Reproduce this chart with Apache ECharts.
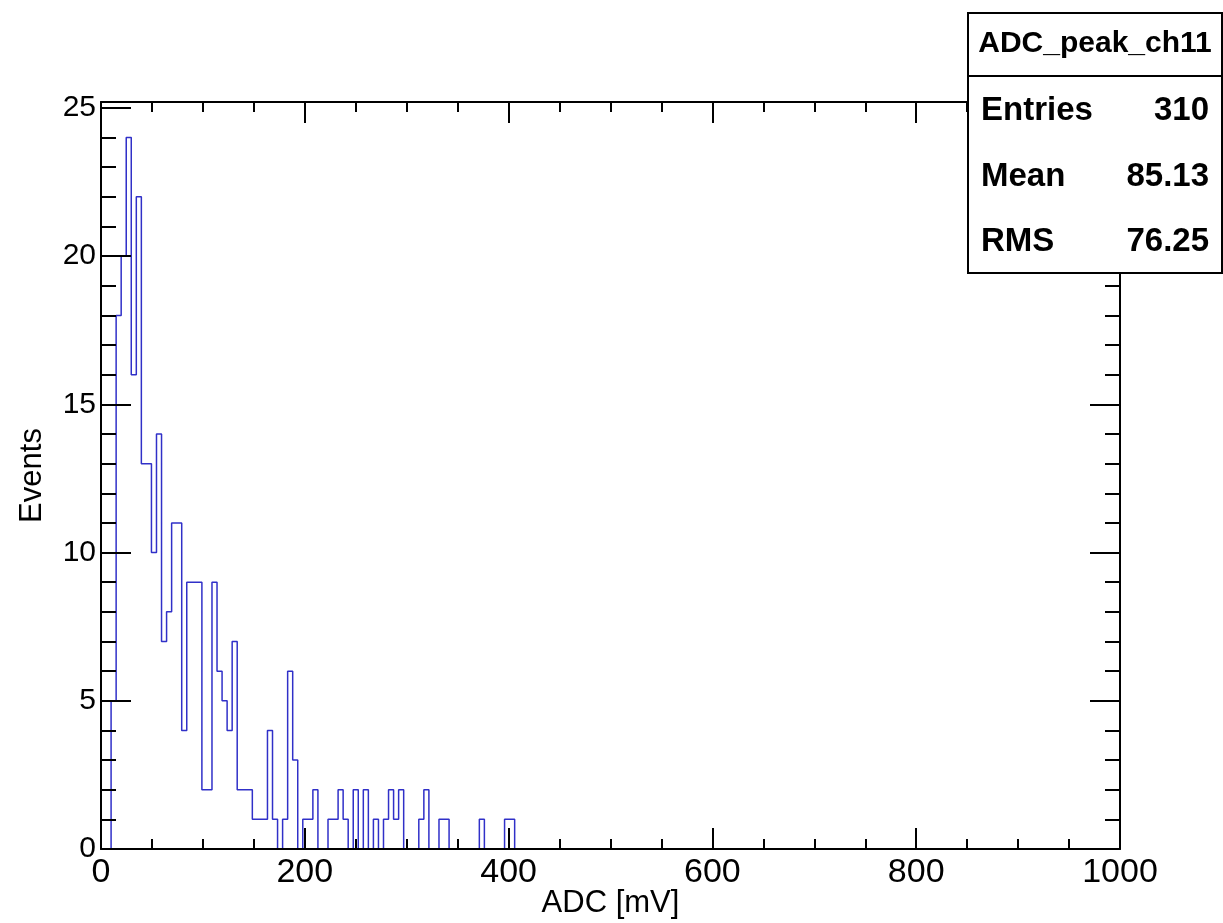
<!DOCTYPE html>
<html>
<head>
<meta charset="utf-8">
<title>ADC_peak_ch11</title>
<script src="https://cdn.jsdelivr.net/npm/echarts@6/dist/echarts.min.js"></script>
<style>
  html, body { margin: 0; padding: 0; background: #ffffff; }
  #chart { width: 1223px; height: 923px; }
</style>
</head>
<body>
<div id="chart"></div>
<script>
// histogram binning: 202 equal bins over 0..1000 mV, filled bins start at index 2
var histRange = [0, 1000];
var nBins = 202;
var firstBin = 2;
// counts of consecutive bins, from firstBin on
var counts = [
  5, 18, 20, 24, 16, 22, 13, 13, 10, 14,
  7, 8, 11, 11, 4, 9, 9, 9, 2, 2,
  9, 6, 5, 4, 7, 2, 2, 2, 1, 1,
  1, 4, 1, 0, 1, 6, 3, 0, 1, 1,
  2, 0, 0, 1, 1, 2, 1, 0, 2, 0,
  2, 0, 1, 0, 1, 2, 1, 2, 0, 0,
  0, 1, 2, 0, 0, 1, 1, 0, 0, 0,
  0, 0, 0, 1, 0, 0, 0, 0, 1, 1
];
var xTicks = [0, 200, 400, 600, 800, 1000];
var yTicks = [0, 5, 10, 15, 20, 25];
var statsTitle = "ADC_peak_ch11";
var statsNames = ["Entries", "Mean", "RMS"];
var statsValues = ["310", "85.13", "76.25"];

// outline of the histogram: both edges of every bin
var binWidth = (histRange[1] - histRange[0]) / nBins;
function edge(k) { return histRange[0] + k * binWidth; }
var outline = [[edge(firstBin), 0]];
counts.forEach(function (v, i) {
  outline.push([edge(firstBin + i), v]);
  outline.push([edge(firstBin + i + 1), v]);
});
outline.push([edge(firstBin + counts.length), 0]);

var font = "'Liberation Sans', Helvetica, Arial, sans-serif";
var lineStyle = { color: "#000000", width: 2 };
var tickStyle = { color: "#000000", width: 2 };

var chart = echarts.init(document.getElementById("chart"));

var statsGraphic = [
  {
    type: "rect",
    left: 967, top: 12,
    shape: { width: 254, height: 260 },
    style: { fill: "#ffffff", stroke: "#000000", lineWidth: 2 },
    z: 100
  },
  {
    type: "line",
    shape: { x1: 967, y1: 76, x2: 1221, y2: 76 },
    style: { stroke: "#000000", lineWidth: 2 },
    z: 101
  },
  {
    type: "text",
    x: 1095, y: 44,
    style: {
      text: statsTitle, fontFamily: font, fontWeight: "bold", fontSize: 30,
      fill: "#000000", align: "center", verticalAlign: "middle"
    },
    z: 101
  }
];
var rowY = [111, 177, 242];
statsNames.forEach(function (n, i) {
  statsGraphic.push({
    type: "text", x: 981, y: rowY[i],
    style: {
      text: n, fontFamily: font, fontWeight: "bold", fontSize: 33,
      fill: "#000000", align: "left", verticalAlign: "middle"
    },
    z: 101
  });
  statsGraphic.push({
    type: "text", x: 1209, y: rowY[i],
    style: {
      text: statsValues[i], fontFamily: font, fontWeight: "bold", fontSize: 33,
      fill: "#000000", align: "right", verticalAlign: "middle"
    },
    z: 101
  });
});

var option = {
  backgroundColor: "#ffffff",
  animation: false,
  grid: { left: 101, right: 103, top: 102, bottom: 74, containLabel: false, outerBoundsMode: "none" },
  xAxis: [
    {
      type: "value",
      position: "bottom",
      min: xTicks[0],
      max: xTicks[xTicks.length - 1],
      interval: 200,
      z: 5,
      name: "ADC [mV]",
      nameLocation: "middle",
      nameGap: 39,
      nameMoveOverlap: false,
      nameTextStyle: { fontFamily: font, fontSize: 31, color: "#000000" },
      axisLine: { show: true, onZero: false, lineStyle: lineStyle },
      axisTick: { show: true, inside: true, length: 21, lineStyle: tickStyle },
      minorTick: { show: true, splitNumber: 4, length: 10, lineStyle: tickStyle },
      axisLabel: {
        fontFamily: font, fontSize: 34, color: "#000000", margin: 7,
        formatter: function (v) { return String(v); }
      },
      splitLine: { show: false }
    },
    {
      type: "value",
      position: "top",
      min: xTicks[0],
      max: xTicks[xTicks.length - 1],
      interval: 200,
      z: 5,
      axisLine: { show: true, onZero: false, lineStyle: lineStyle },
      axisTick: { show: true, inside: true, length: 21, lineStyle: tickStyle },
      minorTick: { show: true, splitNumber: 4, length: 10, lineStyle: tickStyle },
      axisLabel: { show: false },
      splitLine: { show: false }
    }
  ],
  yAxis: [
    {
      type: "value",
      position: "left",
      min: 0,
      max: 25.2,
      interval: 5,
      z: 5,
      name: "Events",
      nameLocation: "middle",
      nameGap: 53,
      nameMoveOverlap: false,
      nameTextStyle: { fontFamily: font, fontSize: 31, color: "#000000" },
      axisLine: { show: true, onZero: false, lineStyle: lineStyle },
      axisTick: { show: true, inside: true, length: 30, lineStyle: tickStyle },
      minorTick: { show: true, splitNumber: 5, length: 15, lineStyle: tickStyle },
      axisLabel: {
        fontFamily: font, fontSize: 30, color: "#000000", margin: 5,
        formatter: function (v) { return yTicks.indexOf(v) >= 0 ? String(v) : ""; }
      },
      splitLine: { show: false }
    },
    {
      type: "value",
      position: "right",
      min: 0,
      max: 25.2,
      interval: 5,
      z: 5,
      axisLine: { show: true, onZero: false, lineStyle: lineStyle },
      axisTick: { show: true, inside: true, length: 30, lineStyle: tickStyle },
      minorTick: { show: true, splitNumber: 5, length: 15, lineStyle: tickStyle },
      axisLabel: { show: false },
      splitLine: { show: false }
    }
  ],
  series: [
    {
      type: "line",
      xAxisIndex: 0,
      yAxisIndex: 0,
      data: outline,
      symbol: "none",
      silent: true,
      lineStyle: { color: "#3030c8", width: 1.5 },
      z: 2
    }
  ],
  graphic: statsGraphic
};

chart.setOption(option);
window.onresize = function () {
  chart.resize();
};
</script>
</body>
</html>
